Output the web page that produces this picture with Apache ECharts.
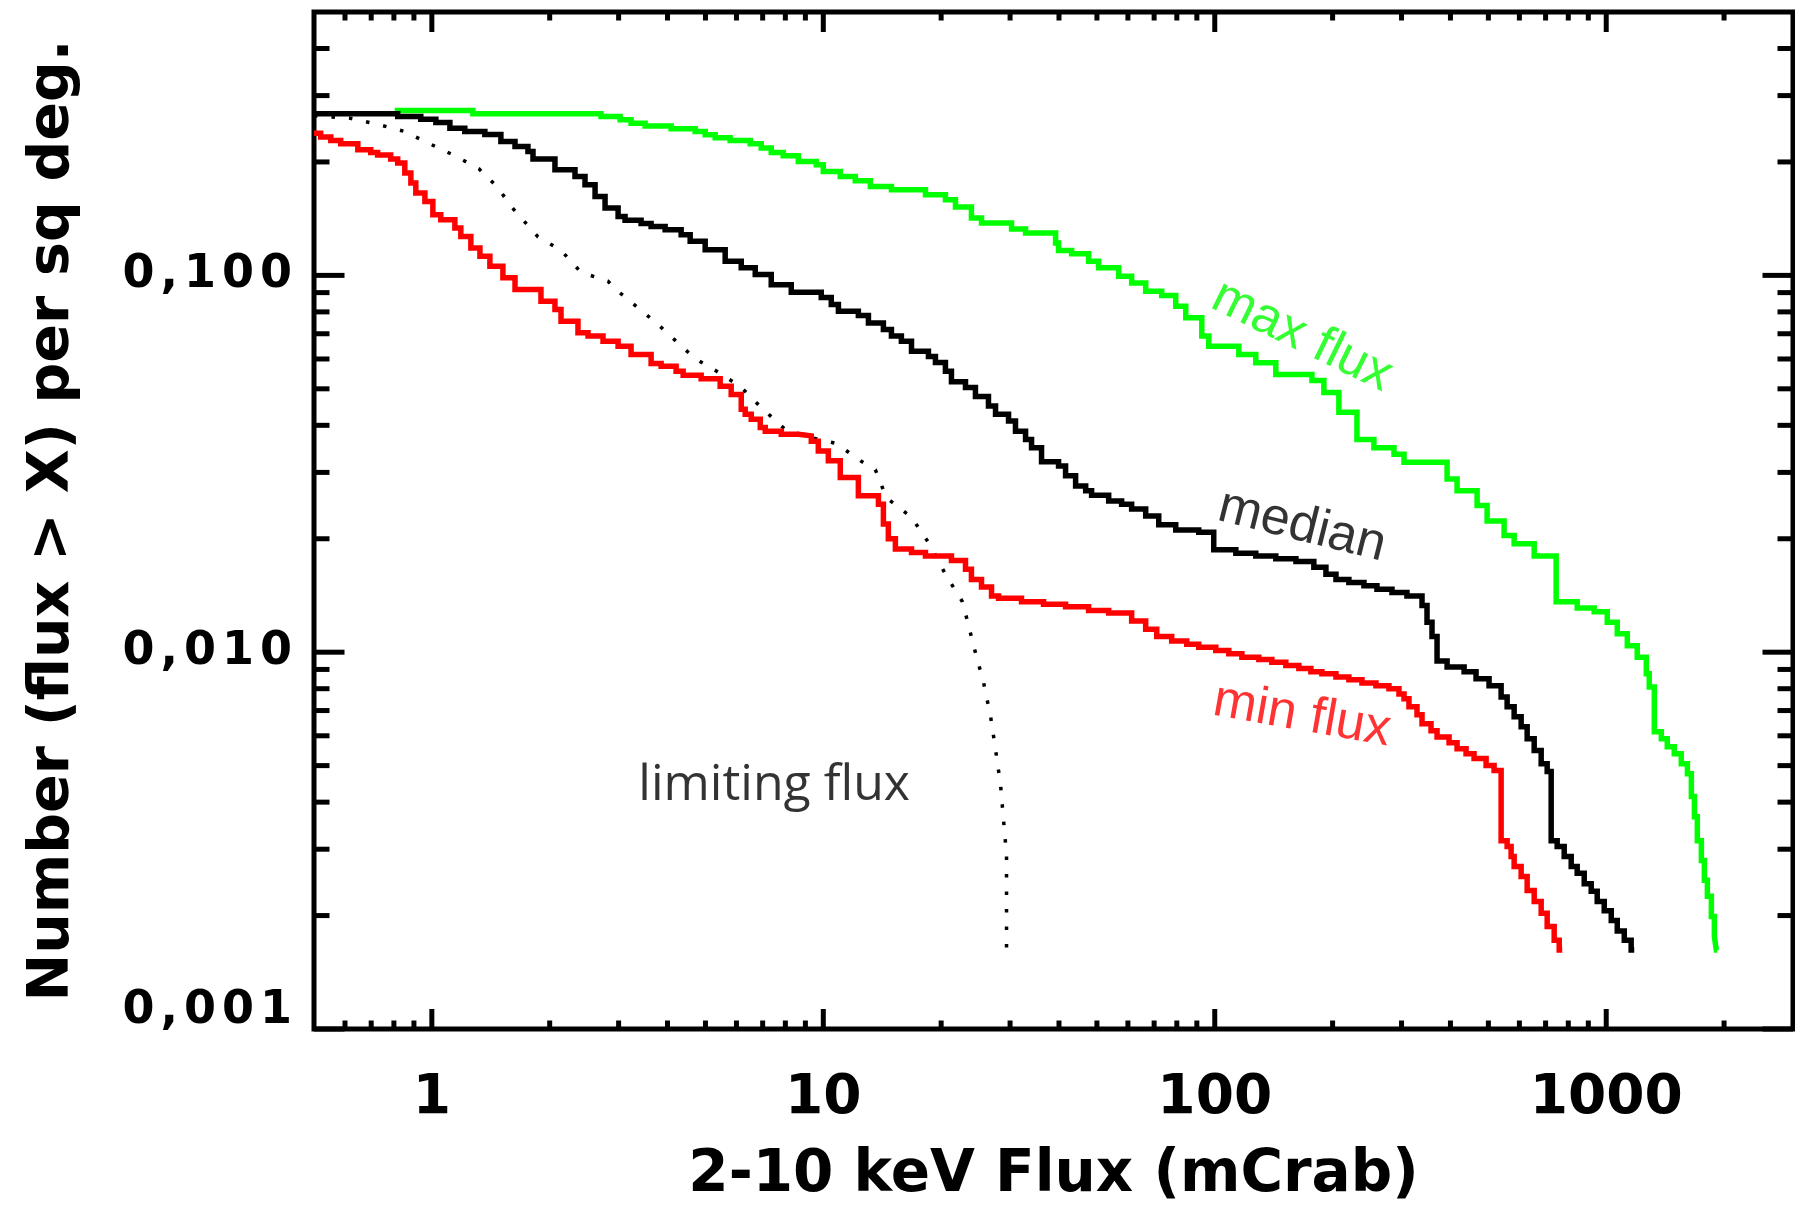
<!DOCTYPE html>
<html>
<head>
<meta charset="utf-8">
<script src="https://cdn.jsdelivr.net/npm/echarts@6/dist/echarts.min.js"></script>
<style>
html,body{margin:0;padding:0;background:#ffffff;}
#chart{width:1795px;height:1218px;}
</style>
</head>
<body>
<div id="chart"></div>
<script>
// ---- tick values / labels ----
const xTickLabels = [1, 10, 100, 1000];
const xMinorTicks = [0.6, 0.7, 0.8, 0.9, 2, 3, 4, 5, 6, 7, 8, 9, 20, 30, 40, 50, 60, 70, 80, 90,
  200, 300, 400, 500, 600, 700, 800, 900, 2000];
const yTickLabels = [0.001, 0.01, 0.1];
const yMinorTicks = [0.002, 0.003, 0.004, 0.005, 0.006, 0.007, 0.008, 0.009,
  0.02, 0.03, 0.04, 0.05, 0.06, 0.07, 0.08, 0.09, 0.2, 0.3, 0.4];

// ---- curves: [flux (mCrab), N(>flux) per sq deg] ----
const maxFlux = [[0.804,0.2738],[1.273,0.2683],[2.705,0.2639],[3.026,0.2587],[3.228,0.2535],[3.506,0.2493],[4.086,0.2448],[4.706,0.2408],[4.992,0.2360],[5.295,0.2317],[5.782,0.2280],[6.506,0.2234],[6.942,0.2177],[7.362,0.2119],[7.900,0.2077],[8.633,0.2006],[9.596,0.1966],[10.0,0.1887],[11.05,0.1830],[12.07,0.1783],[13.19,0.1722],[14.93,0.1688],[18.24,0.1637],[20.51,0.1587],[21.76,0.1519],[23.90,0.1420],[25.36,0.1378],[30.26,0.1328],[32.86,0.1296],[39.21,0.1219],[39.90,0.1165],[43.09,0.1142],[47.61,0.1090],[50.50,0.1047],[56.83,0.0995],[61.33,0.0955],[66.61,0.0908],[73.19,0.0884],[79.49,0.0828],[84.31,0.0772],[92.65,0.0690],[96.54,0.0649],[115.2,0.0617],[127.3,0.0586],[143.2,0.0546],[177.1,0.0526],[190.0,0.0489],[207.5,0.0433],[230.8,0.0367],[255.0,0.0349],[287.0,0.0335],[304.4,0.0319],[392.2,0.0288],[415.9,0.0268],[467.9,0.0245],[496.3,0.0223],[548.4,0.0204],[581.8,0.0194],[654.6,0.0180],[744.9,0.0136],[843.1,0.0131],[931.7,0.0128],[1006,0.0120],[1067,0.0112],[1132,0.0104],[1200,0.00970],[1266,0.00876],[1288,0.00809],[1327,0.00615],[1383,0.00589],[1432,0.00561],[1492,0.00538],[1555,0.00506],[1612,0.00476],[1650,0.00414],[1680,0.00366],[1709,0.00316],[1750,0.00280],[1781,0.00248],[1813,0.00225],[1856,0.00199],[1889,0.00176],[1911,0.00162],[1922,0.00162]];

const medianFlux = [[0.5,0.2683],[0.818,0.2639],[0.937,0.2598],[1.024,0.2544],[1.112,0.2459],[1.214,0.2408],[1.366,0.2365],[1.501,0.2266],[1.631,0.2198],[1.760,0.2132],[1.813,0.2035],[2.063,0.1907],[2.321,0.1830],[2.462,0.1740],[2.612,0.1620],[2.770,0.1510],[2.991,0.1434],[3.116,0.1400],[3.424,0.1372],[3.632,0.1349],[3.944,0.1322],[4.334,0.1282],[4.570,0.1231],[4.992,0.1170],[5.615,0.1090],[6.171,0.1047],[6.701,0.1005],[7.362,0.0945],[8.283,0.0902],[9.88,0.0873],[10.48,0.0837],[10.93,0.0803],[12.29,0.0782],[13.04,0.0748],[14.24,0.0718],[14.93,0.0690],[15.83,0.0669],[16.80,0.0629],[18.56,0.0609],[19.34,0.0587],[20.51,0.0557],[21.25,0.0522],[23.08,0.0504],[24.47,0.0477],[26.42,0.0450],[27.54,0.0428],[29.73,0.0411],[30.97,0.0386],[32.86,0.0367],[34.04,0.0349],[36.10,0.0320],[39.90,0.0312],[41.58,0.0294],[44.11,0.0276],[46.80,0.0268],[48.46,0.0261],[53.58,0.0252],[57.82,0.0247],[61.33,0.0240],[66.61,0.0230],[71.92,0.0218],[79.49,0.0211],[91.0,0.0208],[99.4,0.0187],[113.2,0.0183],[127.3,0.0180],[143.2,0.0177],[161.2,0.0174],[179.1,0.0168],[192.3,0.0161],[204.0,0.0156],[220.1,0.0153],[240.5,0.0150],[259.6,0.0147],[283.6,0.0144],[309.7,0.0141],[338.4,0.0133],[348.5,0.0120],[358.9,0.0110],[369.7,0.00948],[392.2,0.00914],[433.5,0.00887],[465.0,0.00850],[502.0,0.00814],[538.9,0.00761],[558.3,0.00716],[581.8,0.00674],[606.3,0.00634],[628.1,0.00589],[654.6,0.00548],[682.1,0.00506],[706.6,0.00482],[723.4,0.00316],[749.4,0.00305],[781.0,0.00287],[813.9,0.00270],[843.1,0.00259],[878.6,0.00243],[915.5,0.00232],[948.4,0.00218],[988.3,0.00206],[1030,0.00194],[1067,0.00182],[1112,0.00172],[1158,0.00162],[1179,0.00162]];

const minFlux = [[0.5,0.2385],[0.520,0.2328],[0.552,0.2280],[0.585,0.2234],[0.647,0.2154],[0.698,0.2119],[0.727,0.2086],[0.785,0.2035],[0.818,0.1986],[0.853,0.1868],[0.884,0.1758],[0.910,0.1654],[0.960,0.1571],[1.006,0.1449],[1.054,0.1405],[1.145,0.1336],[1.186,0.1269],[1.258,0.1182],[1.327,0.1124],[1.407,0.1057],[1.519,0.0985],[1.631,0.0917],[1.900,0.0854],[2.063,0.0812],[2.138,0.0756],[2.362,0.0704],[2.506,0.0690],[2.737,0.0669],[2.991,0.0649],[3.228,0.0617],[3.632,0.0584],[3.852,0.0574],[4.207,0.0557],[4.385,0.0543],[4.875,0.0532],[5.452,0.0508],[5.817,0.0483],[6.171,0.0441],[6.317,0.0428],[6.545,0.0415],[6.902,0.0395],[7.108,0.0386],[7.809,0.0379],[8.633,0.0375],[9.318,0.0363],[9.71,0.0342],[10.30,0.0322],[11.05,0.0291],[12.29,0.0260],[13.83,0.0247],[14.24,0.0219],[14.66,0.0200],[15.28,0.0188],[16.80,0.0184],[18.24,0.0180],[21.25,0.0175],[23.08,0.0166],[23.90,0.0156],[25.36,0.0149],[26.90,0.0141],[28.04,0.0139],[32.09,0.0136],[36.53,0.0134],[41.58,0.0132],[47.61,0.0129],[53.58,0.0127],[61.33,0.0121],[66.61,0.0115],[71.09,0.0110],[77.62,0.0107],[84.80,0.0105],[91.0,0.0103],[100.6,0.0101],[108.6,0.00990],[117.3,0.00970],[129.6,0.00956],[139.9,0.00941],[151.9,0.00922],[164.0,0.00905],[176.0,0.00888],[187.8,0.00876],[204.0,0.00859],[220.1,0.00845],[237.7,0.00829],[258.1,0.00814],[278.6,0.00800],[295.5,0.00775],[304.4,0.00752],[313.4,0.00716],[328.6,0.00682],[338.4,0.00646],[356.8,0.00619],[369.7,0.00596],[396.8,0.00575],[415.9,0.00554],[438.5,0.00538],[459.6,0.00522],[493.3,0.00500],[517.1,0.00485],[538.9,0.00316],[558.3,0.00305],[571.5,0.00287],[581.8,0.00270],[606.3,0.00254],[628.1,0.00233],[654.6,0.00218],[682.1,0.00203],[706.6,0.00187],[736.3,0.00172],[758.4,0.00162],[771.9,0.00162]];

const limitingFlux = [[0.5,0.2651],[0.617,0.2614],[0.736,0.2509],[0.853,0.2408],[0.988,0.2234],[1.145,0.2077],[1.319,0.1918],[1.466,0.1722],[1.602,0.1515],[1.867,0.1265],[2.138,0.1165],[2.405,0.1019],[2.819,0.0965],[2.938,0.0921],[3.762,0.0745],[4.207,0.0669],[4.706,0.0601],[5.295,0.0560],[6.135,0.0507],[7.023,0.0441],[7.994,0.0390],[9.71,0.0367],[10.79,0.0358],[12.51,0.0321],[13.58,0.0305],[14.49,0.0257],[16.80,0.0228],[18.78,0.0192],[20.51,0.0161],[22.68,0.0136],[24.33,0.0102],[25.66,0.00832],[26.74,0.00677],[27.54,0.00552],[28.36,0.00446],[28.87,0.00358],[29.38,0.00290],[29.38,0.00164]];

// ---- annotation texts and their anchor (flux, N) ----
const annotationTexts = ['max flux', 'median', 'min flux', 'limiting flux'];
const annotationAt = [[167, 0.0689], [167, 0.0216], [167, 0.00678], [7.49, 0.00442]];

// ---- styling ----
const GREEN = '#00ff00', RED = '#ff0000', BLACK = '#000000';
const annotationStyle = [
  { color: GREEN, rotate: -26, fontFamily: 'Liberation Sans', fontSize: 52 },
  { color: BLACK, rotate: -14, fontFamily: 'Liberation Sans', fontSize: 52 },
  { color: RED, rotate: -10, fontFamily: 'Liberation Sans', fontSize: 52 },
  { color: BLACK, rotate: 0, fontFamily: 'Open Sans', fontSize: 50 }
];

const isDecade = v => { const l = Math.log10(v); return Math.abs(l - Math.round(l)) < 1e-6; };
const spaced = s => s.split('').map(c => '{c|' + c + '}').join('');

const chart = echarts.init(document.getElementById('chart'), null, { renderer: 'canvas' });

function tickRenderer(isX) {
  return function (params, api) {
    const cs = params.coordSys;
    const major = api.value(2) === 1;
    const p = api.coord([api.value(0), api.value(1)]);
    const style = { stroke: BLACK, lineWidth: 5, lineCap: 'butt' };
    if (isX) {
      const len = major ? 20 : 8.5;
      const yb = cs.y + cs.height, yt = cs.y;
      return { type: 'group', children: [
        { type: 'line', shape: { x1: p[0], y1: yb, x2: p[0], y2: yb - len }, style },
        { type: 'line', shape: { x1: p[0], y1: yt, x2: p[0], y2: yt + len }, style }
      ]};
    } else {
      const len = major ? 30.5 : 15.5;
      const xl = cs.x, xr = cs.x + cs.width;
      return { type: 'group', children: [
        { type: 'line', shape: { x1: xl, y1: p[1], x2: xl + len, y2: p[1] }, style },
        { type: 'line', shape: { x1: xr, y1: p[1], x2: xr - len, y2: p[1] }, style }
      ]};
    }
  };
}

const xTickData = xTickLabels.map(v => [v, 0.01, 1]).concat(xMinorTicks.map(v => [v, 0.01, 0]));
const yTickData = yTickLabels.map(v => [1, v, 1]).concat(yMinorTicks.map(v => [1, v, 0]));

const tickFont = { fontFamily: 'DejaVu Sans', fontWeight: 'bold', color: BLACK };

const option = {
  animation: false,
  backgroundColor: '#ffffff',
  grid: {
    left: 314, top: 12, width: 1479, height: 1017,
    show: true, borderColor: BLACK, borderWidth: 5, backgroundColor: 'transparent',
    containLabel: false, outerBoundsMode: 'none'
  },
  xAxis: {
    type: 'log', logBase: 10, min: 0.5, max: 3000,
    axisLine: { show: false }, axisTick: { show: false }, splitLine: { show: false },
    minorTick: { show: false }, minorSplitLine: { show: false },
    axisLabel: Object.assign({ fontSize: 55, margin: 42,
      formatter: v => isDecade(v) ? String(Math.round(v)) : '' }, tickFont),
    name: '2-10 keV Flux (mCrab)', nameLocation: 'middle', nameGap: 118,
    nameTextStyle: Object.assign({ fontSize: 58 }, tickFont)
  },
  yAxis: {
    type: 'log', logBase: 10, min: 0.001, max: 0.5,
    axisLine: { show: false }, axisTick: { show: false }, splitLine: { show: false },
    minorTick: { show: false }, minorSplitLine: { show: false },
    axisLabel: Object.assign({ fontSize: 46, margin: 19, verticalAlignMinLabel: 'bottom',
      formatter: v => isDecade(v) ? spaced(v.toFixed(3).replace('.', ',')) : '',
      rich: { c: Object.assign({ fontSize: 46, padding: [0, 3, 0, 3], lineHeight: 36 }, tickFont) }
    }, tickFont),
    name: 'Number (flux > X) per sq deg.', nameLocation: 'middle', nameGap: 232, nameRotate: 90,
    nameTextStyle: Object.assign({ fontSize: 57 }, tickFont)
  },
  series: [
    { name: 'limiting flux', type: 'line', data: limitingFlux, symbol: 'none', silent: true,
      lineStyle: { color: BLACK, width: 3.5, type: [3.5, 14], cap: 'butt' }, z: 2 },
    { name: 'max flux', type: 'line', step: 'end', data: maxFlux, symbol: 'none', silent: true,
      lineStyle: { color: GREEN, width: 5.5, cap: 'butt', join: 'miter' }, z: 3 },
    { name: 'median', type: 'line', step: 'end', data: medianFlux, symbol: 'none', silent: true,
      lineStyle: { color: BLACK, width: 5.5, cap: 'butt', join: 'miter' }, z: 3 },
    { name: 'min flux', type: 'line', step: 'end', data: minFlux, symbol: 'none', silent: true,
      lineStyle: { color: RED, width: 5.5, cap: 'butt', join: 'miter' }, z: 3 },
    { name: 'annotations', type: 'scatter', silent: true, symbolSize: 1,
      itemStyle: { color: 'rgba(0,0,0,0)' },
      data: annotationAt.map((p, i) => ({
        value: p,
        label: Object.assign({ show: true, position: 'inside', align: 'center', verticalAlign: 'middle',
          formatter: annotationTexts[i] }, annotationStyle[i])
      })), z: 4 },
    { name: 'xticks', type: 'custom', silent: true, clip: false, data: xTickData,
      renderItem: tickRenderer(true), z: 5 },
    { name: 'yticks', type: 'custom', silent: true, clip: false, data: yTickData,
      renderItem: tickRenderer(false), z: 5 }
  ]
};
chart.setOption(option);
</script>
</body>
</html>
